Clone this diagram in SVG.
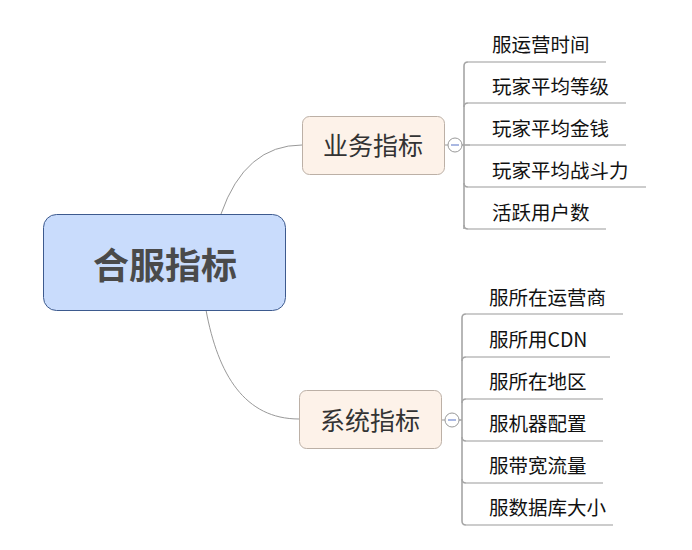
<svg xmlns="http://www.w3.org/2000/svg" width="692" height="550" viewBox="0 0 692 550">
<style>
.root{fill:#c9dcfc;stroke:#3d5a8e;stroke-width:1}
.main{fill:#fdf2e9;stroke:#bcb0a6;stroke-width:1}
.rootText{font-family:"Noto Sans CJK SC","Microsoft YaHei",sans-serif;font-size:36px;font-weight:bold;fill:#4a4a4a}
.mainText{font-family:"Noto Sans CJK SC",sans-serif;font-size:25px;fill:#333}
.leafText{font-family:"Noto Sans CJK SC",sans-serif;font-size:19.5px;fill:#111}
.curve{fill:none;stroke:#999;stroke-width:1}
.trunk{fill:none;stroke:#a6a6a6;stroke-width:1.6}
.under{fill:none;stroke:#999;stroke-width:1.2}
.fold{fill:#fff;stroke:#999;stroke-width:1}
.minus{stroke:#8ea0d8;stroke-width:1.5}
</style>
<rect width="692" height="550" fill="#fff"/>
<g id="connectors">
<path class="curve" d="M221,214 Q245,145 302,145"/>
<path class="curve" d="M206,310 C218,375 245,419 299,419"/>
<line class="curve" x1="444" y1="145" x2="448" y2="145"/>
<line class="curve" x1="442" y1="420" x2="445" y2="420"/>
<path class="trunk" d="M462,145 H470"/>
<path class="trunk" d="M464,229 V66 Q464,62 468,62"/>
<path class="trunk" d="M464,107 Q464,103 468,103"/>
<path class="trunk" d="M464,183 Q464,187 468,187"/>
<path class="trunk" d="M464,225 Q464,229 468,229"/>
<path class="under" d="M468,62 H606 M468,103 H626 M470,145 H626 M468,187 H646 M468,229 H606"/>
<path class="trunk" d="M459,420 H462"/>
<path class="trunk" d="M462,521 V318 Q462,314 466,314"/>
<path class="trunk" d="M462,361 Q462,357 466,357"/>
<path class="trunk" d="M462,403 Q462,399 466,399"/>
<path class="trunk" d="M462,437 Q462,441 466,441"/>
<path class="trunk" d="M462,479 Q462,483 466,483"/>
<path class="trunk" d="M462,521 Q462,525 466,525"/>
<path class="under" d="M466,314 H623 M466,357 H610 M466,399 H603 M466,441 H603 M466,483 H603 M466,525 H613"/>
</g>
<g id="root">
<rect class="root" x="43.5" y="214.5" width="242" height="96" rx="13"/>
<text class="rootText" x="165" y="262.5" text-anchor="middle" dominant-baseline="central">合服指标</text>
</g>
<g id="biz">
<rect class="main" x="302.5" y="116.5" width="142" height="58" rx="7"/>
<text class="mainText" x="373" y="143.5" text-anchor="middle" dominant-baseline="central">业务指标</text>
<circle class="fold" cx="455" cy="145" r="7"/>
<line class="minus" x1="451" y1="145" x2="459" y2="145"/>
</g>
<g id="sys">
<rect class="main" x="299.5" y="390.5" width="142" height="58" rx="7"/>
<text class="mainText" x="370" y="418.5" text-anchor="middle" dominant-baseline="central">系统指标</text>
<circle class="fold" cx="452" cy="420" r="7"/>
<line class="minus" x1="448" y1="420" x2="456" y2="420"/>
</g>
<g id="leaf1"><text class="leafText" x="492" y="43" dominant-baseline="central">服运营时间</text></g>
<g id="leaf2"><text class="leafText" x="492" y="85" dominant-baseline="central">玩家平均等级</text></g>
<g id="leaf3"><text class="leafText" x="492" y="127" dominant-baseline="central">玩家平均金钱</text></g>
<g id="leaf4"><text class="leafText" x="492" y="169" dominant-baseline="central">玩家平均战斗力</text></g>
<g id="leaf5"><text class="leafText" x="492" y="211" dominant-baseline="central">活跃用户数</text></g>
<g id="leaf6"><text class="leafText" x="489" y="296" dominant-baseline="central">服所在运营商</text></g>
<g id="leaf7"><text class="leafText" x="489" y="338" dominant-baseline="central">服所用CDN</text></g>
<g id="leaf8"><text class="leafText" x="489" y="380" dominant-baseline="central">服所在地区</text></g>
<g id="leaf9"><text class="leafText" x="489" y="422" dominant-baseline="central">服机器配置</text></g>
<g id="leaf10"><text class="leafText" x="489" y="464" dominant-baseline="central">服带宽流量</text></g>
<g id="leaf11"><text class="leafText" x="489" y="506" dominant-baseline="central">服数据库大小</text></g>
</svg>
